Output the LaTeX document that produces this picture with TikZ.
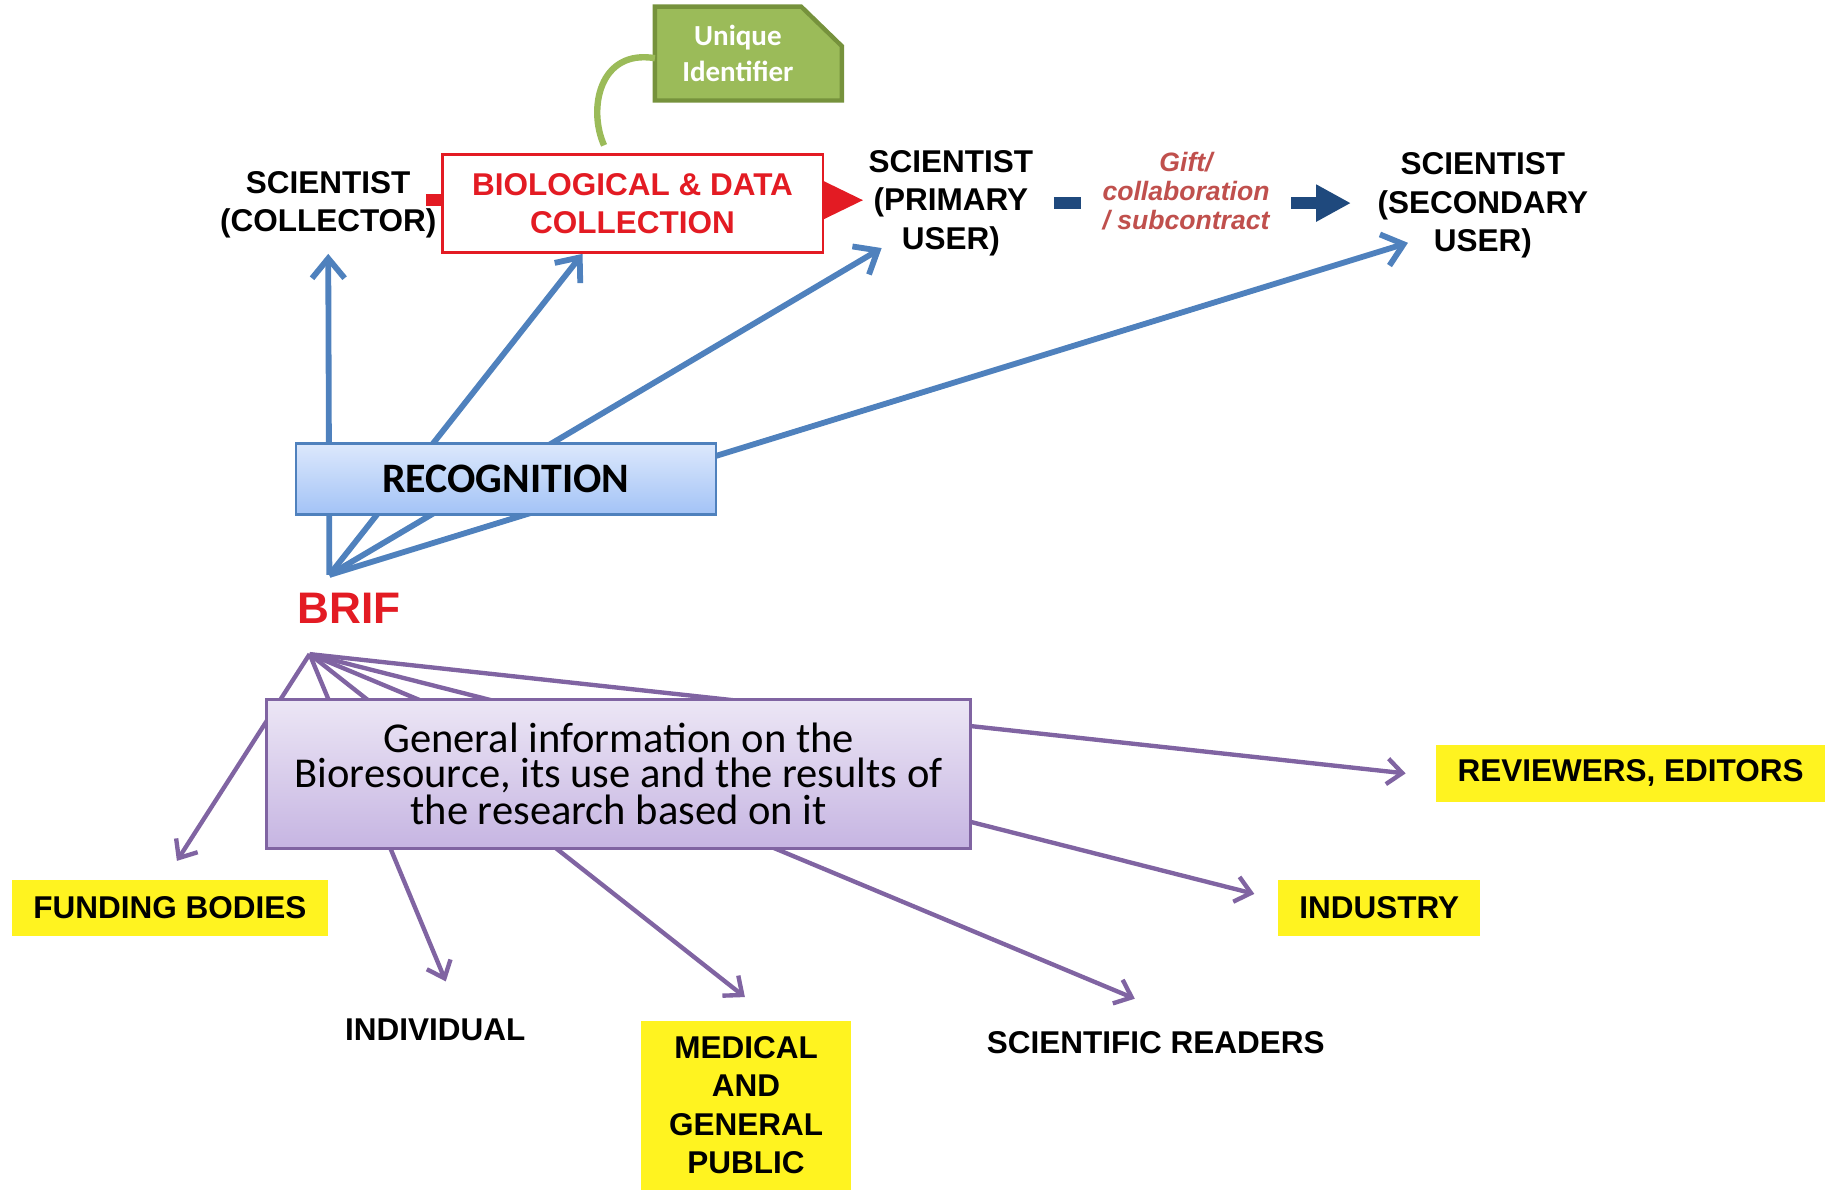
\documentclass[tikz,border=0pt]{standalone}
\usepackage{fontspec}
\setmainfont{Liberation Sans}
\newfontfamily\calibri{Carlito}
\usepackage{xcolor}
\usetikzlibrary{arrows.meta}
\definecolor{brifred}{RGB}{227,27,35}
\definecolor{giftred}{RGB}{192,80,77}
\definecolor{navy}{RGB}{31,73,125}
\definecolor{recblue}{RGB}{79,129,189}
\definecolor{infopurple}{RGB}{128,100,162}
\definecolor{uidgreen}{RGB}{155,187,89}
\definecolor{uiddark}{RGB}{118,146,60}
\definecolor{tagyellow}{RGB}{255,243,32}
\pgfdeclarelayer{back}
\pgfsetlayers{back,main}
\begin{document}
\begin{tikzpicture}[x=0.02cm, y=-0.02cm,
  caps/.style={font=\fontsize{15.4}{18.8}\selectfont\bfseries, align=center, inner sep=0pt},
  tagbox/.style={caps, fill=tagyellow, minimum height=0.96cm},
  blueline/.style={recblue, line width=1mm, -{Straight Barb[length=3.4mm, width=5.6mm]}},
  purpleline/.style={infopurple, line width=0.75mm, -{Straight Barb[length=2.6mm, width=4.4mm]}},
  redarrow/.style={brifred, line width=2mm, -{Triangle[length=7.2mm, width=6.2mm]}},
  navyarrow/.style={navy, line width=2.2mm, -{Triangle[length=6mm, width=6mm]}}]
\useasboundingbox (0,0) rectangle (1568,1023);
\node[caps] (collector) at (282,176) {SCIENTIST\\(COLLECTOR)};
\node[caps, draw=brifred, line width=0.45mm, fill=white, text=brifred, minimum width=6.54cm, minimum height=1.68cm] (biobox) at (543.5,175) {BIOLOGICAL \& DATA\\COLLECTION};
\node[caps] (primary) at (817,174.5) {SCIENTIST\\(PRIMARY\\USER)};
\node[caps] (secondary) at (1274,176.5) {SCIENTIST\\(SECONDARY\\USER)};
\node[minimum width=3.2cm, minimum height=1.6cm, inner sep=0pt] (uid) at (643,46) {};
\filldraw[fill=uidgreen, draw=uiddark, line width=0.75mm] (uid.north west) -- ([shift={(-35,0)}]uid.north east) -- ([shift={(0,34)}]uid.north east) -- (uid.south east) -- (uid.south west) -- cycle;
\node[font=\calibri\bfseries\fontsize{14.2}{17.6}\selectfont, text=white, align=center, inner sep=0pt] (uidtext) at ([shift={(-9,0)}]uid.center) {Unique\\Identifier};
\draw[uidgreen, line width=1.1mm] ([shift={(0,4)}]uid.west) .. controls +(-48,-8) and +(-14,-31) .. ([shift={(-24.5,-7)}]biobox.north);
\node[draw=recblue, line width=0.4mm, top color={rgb,255:red,220;green,232;blue,252}, bottom color={rgb,255:red,163;green,195;blue,246}, minimum width=7.22cm, minimum height=1.22cm, font=\calibri\bfseries\fontsize{20.5}{24}\selectfont] (recog) at (434.5,411.5) {RECOGNITION};
\node[font=\fontsize{21.6}{26}\selectfont\bfseries, text=brifred, inner sep=0pt] (brif) at (300,523) {BRIF};
\coordinate (hub) at (283,494);
\coordinate (fan) at (266,562);
\node[draw=infopurple, line width=0.4mm, top color={rgb,255:red,236;green,230;blue,245}, bottom color={rgb,255:red,198;green,181;blue,226}, minimum width=12.1cm, minimum height=2.56cm, align=center, font=\calibri\fontsize{20.8}{17}\selectfont] (info) at (531.5,665) {General information on the\\Bioresource, its use and the results of\\the research based on it};
\node[tagbox, minimum width=5.44cm] (funding) at (146,780) {FUNDING BODIES};
\node[caps] (individual) at (374,885) {INDIVIDUAL};
\node[tagbox, minimum width=3.6cm, minimum height=2.9cm] (medical) at (641,949.5) {MEDICAL\\AND\\GENERAL\\PUBLIC};
\node[caps] (readers) at (993,896) {SCIENTIFIC READERS};
\node[tagbox, minimum width=3.48cm] (industry) at (1185,780) {INDUSTRY};
\node[tagbox, minimum width=6.68cm, minimum height=0.98cm] (reviewers) at (1401,664.5) {REVIEWERS, EDITORS};
\begin{pgfonlayer}{back}
\draw[redarrow, shorten >=0.7mm] ([shift={(-13,-3)}]biobox.west) -- ([shift={(0,-3)}]biobox.west -| primary.west);
\draw[navyarrow, shorten <=3.5mm, shorten >=4.5mm] (primary.east) -- (primary.east -| secondary.west);
\draw[blueline] (hub) -- ([shift={(0,13)}]collector.south);
\draw[blueline] (hub) -- ([shift={(-43,0)}]biobox.south);
\draw[blueline] (hub) -- ([shift={(11.5,-7)}]primary.south west);
\draw[blueline] (hub) -- ([shift={(26.5,-13.5)}]secondary.south west);
\draw[purpleline] (fan) -- ([shift={(6,-16)}]funding.north);
\draw[purpleline] (fan) -- ([shift={(9,-32)}]individual.north);
\draw[purpleline] (fan) -- ([shift={(-1,-20)}]medical.north);
\draw[purpleline] (fan) -- ([shift={(-18,-28)}]readers.north);
\draw[purpleline] (fan) -- ([shift={(-20,-12)}]industry.west);
\draw[purpleline] (fan) -- ([shift={(-26,0)}]reviewers.west);
\end{pgfonlayer}
\node[font=\fontsize{13}{14.2}\selectfont\bfseries\itshape, text=giftred, fill=white, align=center, inner sep=0pt, minimum width=3.6cm, minimum height=1.5cm] (gift) at (1019,164.5) {Gift/\\collaboration\\/ subcontract};
\end{tikzpicture}
\end{document}
